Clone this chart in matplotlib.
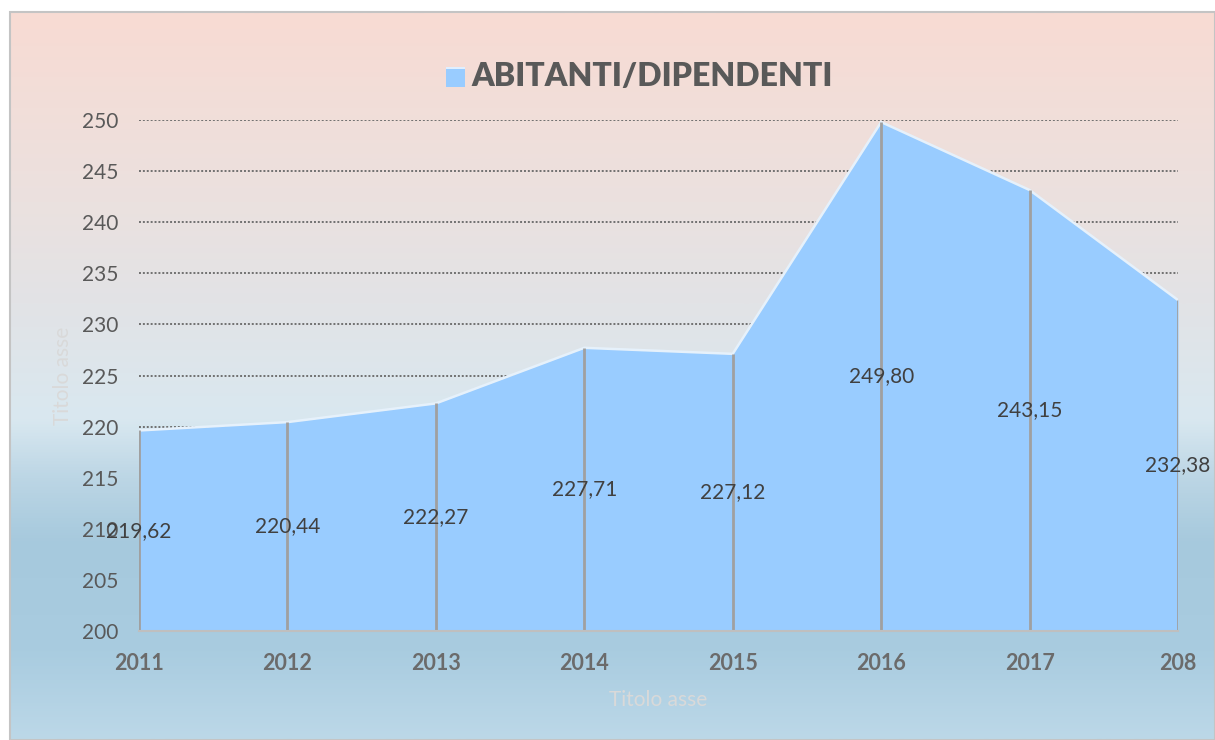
import matplotlib
matplotlib.use("Agg")
import matplotlib.pyplot as plt
import numpy as np
from matplotlib.colors import LinearSegmentedColormap
from matplotlib.patches import Rectangle

years = ["2011", "2012", "2013", "2014", "2015", "2016", "2017", "208"]
values = [219.62, 220.44, 222.27, 227.71, 227.12, 249.80, 243.15, 232.38]
labels = ["219,62", "220,44", "222,27", "227,71", "227,12", "249,80", "243,15", "232,38"]
title = "ABITANTI/DIPENDENTI"
yticks = [200, 205, 210, 215, 220, 225, 230, 235, 240, 245, 250]

plt.rcParams['font.family'] = ['Lato', 'DejaVu Sans']

W, H = 1215, 740
fig = plt.figure(figsize=(W / 100, H / 100), dpi=100)
fig.patch.set_facecolor('white')

# background gradient
bg = fig.add_axes([10 / W, 0, 1 - 10 / W, 1 - 12 / H], zorder=-10)
stops = [(0.0, '#f8dbd3'), (0.26, '#ebe1df'), (0.40, '#e2e3e6'),
         (0.56, '#d9e8f0'), (0.64, '#bcd6e5'), (0.73, '#a6c9dd'),
         (0.88, '#a9cce0'), (1.0, '#bcd8e8')]
cmap = LinearSegmentedColormap.from_list('bg', stops)
grad = np.linspace(0, 1, 512).reshape(-1, 1)
bg.imshow(grad, aspect='auto', cmap=cmap, extent=[0, 1, 1, 0])
bg.set_xlim(0, 1); bg.set_ylim(1, 0)
bg.axis('off')
fig.add_artist(Rectangle((10 / W, 0), 1 - 10 / W, 1 - 12 / H, transform=fig.transFigure,
                         fill=False, edgecolor='#c4c4c4', lw=1.5, zorder=-5))

x0, x1 = 139, 1178
yb, yt = 631, 120
ax = fig.add_axes([x0 / W, 1 - yb / H, (x1 - x0) / W, (yb - yt) / H])
ax.patch.set_alpha(0)
x = np.arange(len(years))
ax.set_xlim(0, len(years) - 1)
ax.set_ylim(200, 250)

for yv in yticks[1:]:
    ax.axhline(yv, color='#707070', lw=1.4, linestyle=(0, (1, 1.0)), zorder=1)

ax.fill_between(x, values, 200, color='#99ccff', zorder=2, lw=0)
ax.plot(x, values, color='#e6f1fb', lw=1.8, zorder=3, solid_joinstyle='miter')
ax.vlines(x, 200, values, color='#a0a0a0', lw=2, zorder=4)

for xi, v, lab in zip(x, values, labels):
    ax.text(xi, (v + 200) / 2, lab, ha='center', va='center', fontsize=15,
            color='#404040', zorder=5)

ax.set_yticks(yticks)
ax.set_yticklabels([str(t) for t in yticks], fontsize=15, color='#595959')
ax.set_xticks(x)
ax.set_xticklabels(years, fontsize=15.5, color='#6b6b6b', fontweight='bold')
ax.tick_params(axis='y', length=0, pad=15)
ax.tick_params(axis='x', length=0, pad=16)
for s in ['top', 'right', 'left']:
    ax.spines[s].set_visible(False)
ax.spines['bottom'].set_color('#bfbfbf')
ax.spines['bottom'].set_linewidth(1.5)
ax.spines['bottom'].set_zorder(6)

# axis titles
fig.text(658 / W, 1 - 700 / H, "Titolo asse", ha='center', va='center',
         fontsize=15, color='#d9d9d9')
fig.text(63 / W, 1 - 376 / H, "Titolo asse", ha='center', va='center',
         fontsize=15, color='#d9d9d9', rotation=90)

# title with legend marker
fig.add_artist(Rectangle((446 / W, 1 - 87 / H), 19 / W, 20 / H, transform=fig.transFigure,
                         facecolor='#99ccff', edgecolor='none'))
fig.add_artist(Rectangle((446 / W, 1 - 69 / H), 19 / W, 2 / H, transform=fig.transFigure,
                         facecolor='#e0efff', edgecolor='none'))
fig.text(471 / W, 1 - 77 / H, title, ha='left', va='center', fontsize=23,
         fontweight='heavy', color='#595959')

fig.savefig('out.png', dpi=100)
